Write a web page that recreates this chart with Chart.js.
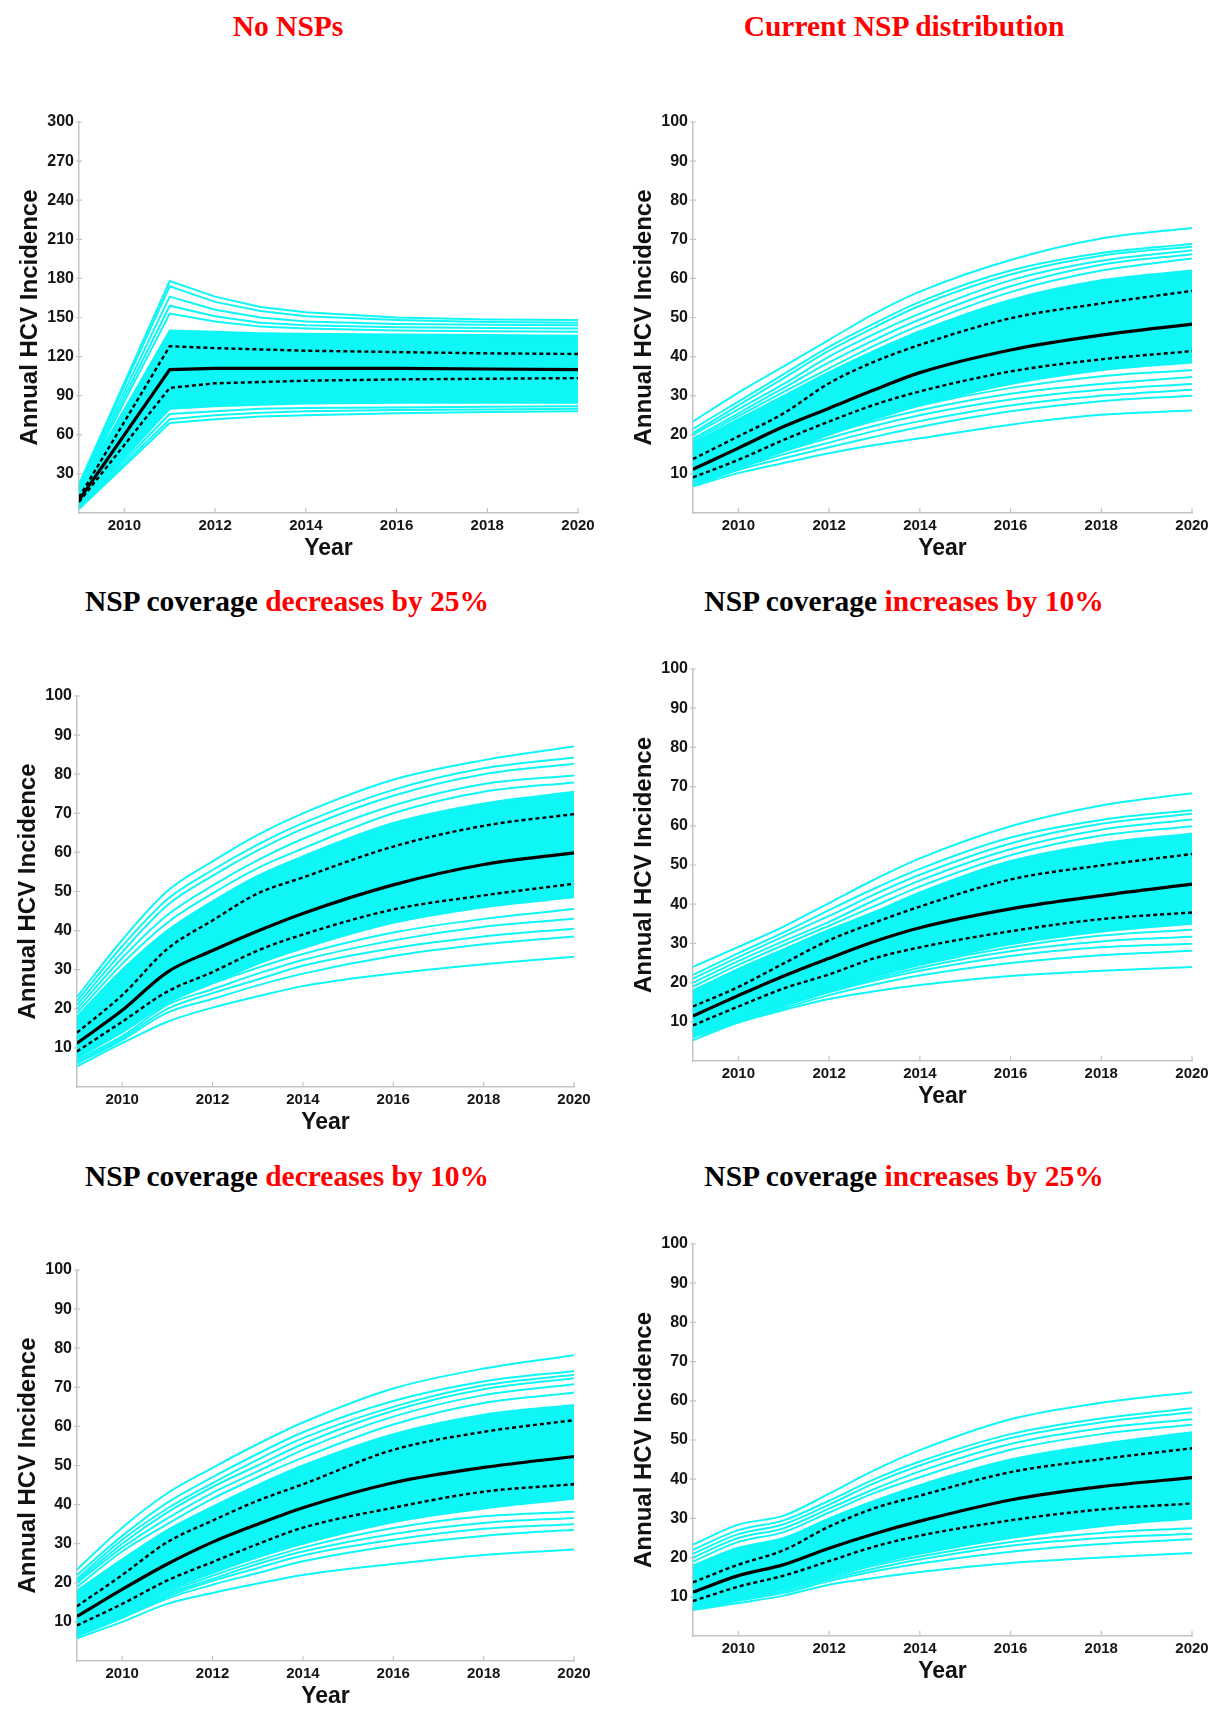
<!DOCTYPE html>
<html>
<head>
<meta charset="utf-8">
<script src="https://cdn.jsdelivr.net/npm/chart.js@4.4.1/dist/chart.umd.min.js"></script>
<style>
  body { margin: 0; background: #fff; width: 1215px; height: 1719px; position: relative; overflow: hidden; }
  .title { position: absolute; transform: translate(-50%, -50%); white-space: nowrap;
           font-family: "Liberation Serif", "Times New Roman", serif; font-weight: bold; font-size: 29.5px; color: #000; }
  .red { color: #ff0000; }
  canvas { position: absolute; }
</style>
</head>
<body>

<div class="title red" style="left:288px; top:26px">No NSPs</div>
<div class="title red" style="left:904px; top:26px">Current NSP distribution</div>
<div class="title" style="left:287px; top:601px">NSP coverage <span class="red">decreases by 25%</span></div>
<div class="title" style="left:904px; top:601px">NSP coverage <span class="red">increases by 10%</span></div>
<div class="title" style="left:287px; top:1176px">NSP coverage <span class="red">decreases by 10%</span></div>
<div class="title" style="left:904px; top:1176px">NSP coverage <span class="red">increases by 25%</span></div>

<canvas id="noNsp"></canvas>
<canvas id="current"></canvas>
<canvas id="dec25"></canvas>
<canvas id="inc10"></canvas>
<canvas id="dec10"></canvas>
<canvas id="inc25"></canvas>

<script>
// x positions of the model outputs (no-NSP panel jumps straight to its 2011 peak)
const yearsNoNsp = [2009, 2011, 2012, 2013, 2014, 2016, 2018, 2020];
const years = [2009, 2010, 2011, 2012, 2013, 2014, 2016, 2018, 2020];
const xTicks = [2010, 2012, 2014, 2016, 2018, 2020];
const yTicksNoNsp = [30, 60, 90, 120, 150, 180, 210, 240, 270, 300];
const yTicks = [10, 20, 30, 40, 50, 60, 70, 80, 90, 100];

// --- No NSPs ---
const noNspMedian = [10, 110, 111, 111, 111, 111, 110.5, 110];
const noNspUpper = [12, 128, 126.5, 125.5, 124.5, 123.5, 122.5, 122];
const noNspLower = [8.5, 96, 99.5, 100.5, 101.5, 102.5, 103, 103.5];
const noNspBandTop = [19, 140, 139, 138, 137.5, 137, 136.5, 136];
const noNspBandBottom = [5, 80, 82, 83, 84, 84.5, 84.5, 84.5];
const noNspRuns = [
  [22, 178, 166, 158, 154, 150, 148.5, 148],
  [21, 174, 162, 155, 151, 148, 146.5, 146],
  [20, 166, 156, 150, 147, 145, 144.5, 144],
  [19, 159, 151, 146, 144, 142.5, 142, 141.5],
  [18, 153, 147, 143, 141.5, 140, 139.5, 139],
  [3, 69, 72, 74, 75, 76.5, 77.5, 78],
  [4, 72, 75, 77, 78, 79, 79.5, 80],
  [4.5, 76, 78, 80, 80.5, 81, 81.5, 82]
];

// --- Current NSP distribution ---
const currentMedian = [11.2, 16.6, 22.1, 26.8, 31.5, 35.9, 41.7, 45.5, 48.3];
const currentUpper = [13.8, 19.6, 25.5, 33.2, 38.7, 43.0, 49.8, 53.6, 56.8];
const currentLower = [9.1, 13.6, 18.7, 23.4, 27.7, 31.1, 36.2, 39.3, 41.4];
const currentBandTop = [18, 24, 30, 36, 41.5, 46.5, 54.5, 59.5, 62];
const currentBandBottom = [7.5, 11.5, 15.8, 20, 24, 27.5, 33, 36.5, 38.5];
const currentRuns = [
  [23.4, 30.8, 37.5, 44.3, 51.0, 56.6, 64.7, 70.2, 72.9],
  [21.5, 28.5, 35.5, 42.5, 48.5, 54.0, 62.0, 66.5, 68.8],
  [20.5, 27.5, 34.5, 41.5, 47.5, 53.0, 61.0, 65.8, 68.1],
  [20.0, 26.5, 33.0, 40.0, 45.8, 51.0, 59.5, 64.5, 67.2],
  [19.0, 25.5, 32.0, 38.5, 44.3, 49.5, 58.0, 63.5, 66.2],
  [18.5, 24.8, 31.0, 37.0, 42.8, 48.0, 56.5, 62.0, 65.1],
  [6.8, 10.2, 12.8, 15.3, 17.4, 19.1, 22.6, 25.1, 26.2],
  [7.0, 11.0, 14.0, 16.8, 19.5, 22.0, 26.0, 28.6, 30.0],
  [7.5, 11.5, 15.0, 18.0, 21.0, 23.5, 27.5, 30.0, 31.5],
  [8.0, 12.0, 15.8, 19.2, 22.3, 25.0, 29.0, 31.5, 33.0],
  [8.5, 12.5, 16.5, 20.2, 23.5, 26.3, 30.5, 33.0, 34.8],
  [9.0, 13.0, 17.0, 21.0, 24.5, 27.5, 32.0, 35.0, 36.5]
];

// --- NSP coverage decreases by 25% ---
const dec25Median = [11.2, 19.6, 29.4, 34.9, 39.9, 44.4, 51.7, 56.9, 59.9];
const dec25Upper = [13.9, 23.5, 35.3, 42.6, 49.5, 53.6, 61.5, 66.8, 69.8];
const dec25Lower = [9.1, 16.7, 24.4, 29.4, 34.9, 39.0, 45.4, 49.0, 52.0];
const dec25BandTop = [18, 30, 40, 47.5, 54, 59, 67.5, 72.5, 75.5];
const dec25BandBottom = [7.5, 14, 21.5, 26.5, 31.5, 35.5, 42, 46, 48.5];
const dec25Runs = [
  [23.0, 37.6, 50.1, 57.7, 64.5, 70.0, 78.6, 83.6, 87.1],
  [22.0, 36.0, 48.0, 55.5, 62.0, 67.5, 76.0, 81.5, 84.3],
  [21.0, 34.5, 46.5, 54.0, 60.5, 66.0, 74.5, 80.0, 82.7],
  [20.0, 33.0, 44.0, 51.5, 58.0, 63.5, 72.0, 77.5, 79.7],
  [19.0, 31.5, 42.0, 49.5, 56.0, 61.0, 70.0, 75.5, 77.9],
  [5.3, 11.2, 16.7, 20.3, 23.2, 25.8, 29.0, 31.4, 33.3],
  [6.0, 12.0, 19.0, 22.5, 26.0, 29.0, 33.5, 36.5, 38.5],
  [6.5, 12.5, 20.0, 24.0, 27.5, 31.0, 35.5, 38.5, 40.5],
  [7.0, 13.0, 21.0, 25.0, 29.0, 32.5, 37.5, 41.0, 43.0],
  [7.5, 14.0, 22.0, 26.5, 30.5, 34.0, 39.5, 43.0, 45.5]
];

// --- NSP coverage increases by 10% ---
const inc10Median = [11.5, 16.7, 21.7, 26.2, 30.5, 34.0, 38.8, 42.2, 45.1];
const inc10Upper = [13.9, 18.9, 24.9, 30.8, 35.3, 39.4, 46.3, 49.9, 52.8];
const inc10Lower = [9.1, 13.9, 18.5, 22.1, 26.2, 29.0, 33.1, 36.2, 37.9];
const inc10BandTop = [18, 23.5, 28.5, 33.5, 38, 43, 51, 55.5, 58];
const inc10BandBottom = [7, 10.8, 14.6, 18.2, 21.8, 24.8, 29.8, 33, 35];
const inc10Runs = [
  [24.0, 29.1, 34.3, 40.3, 46.3, 51.7, 59.9, 65.2, 68.3],
  [22.0, 27.5, 32.8, 38.5, 44.0, 49.0, 57.0, 61.5, 64.0],
  [21.0, 26.5, 31.8, 37.0, 42.5, 47.5, 55.5, 60.5, 63.1],
  [20.0, 25.5, 30.6, 35.5, 41.0, 46.0, 54.0, 59.0, 61.6],
  [19.0, 24.5, 29.6, 34.5, 39.5, 44.5, 52.5, 57.5, 59.9],
  [5.3, 9.8, 13.0, 15.8, 17.8, 19.4, 21.7, 23.0, 24.0],
  [6.0, 10.0, 13.5, 16.8, 19.5, 21.8, 25.0, 27.0, 28.1],
  [6.3, 10.2, 14.0, 17.5, 20.5, 23.0, 26.8, 29.0, 29.9],
  [6.6, 10.4, 14.2, 17.8, 21.0, 23.8, 28.0, 30.5, 31.7],
  [6.8, 10.5, 14.4, 18.0, 21.5, 24.5, 29.0, 32.0, 33.5]
];

// --- NSP coverage decreases by 10% ---
const dec10Median = [11.4, 18.3, 24.8, 30.4, 35.0, 39.2, 45.6, 49.5, 52.3];
const dec10Upper = [14.0, 22.0, 30.4, 35.9, 41.0, 45.2, 54.0, 58.6, 61.6];
const dec10Lower = [9.1, 14.6, 20.6, 25.3, 29.9, 34.1, 39.2, 43.3, 45.2];
const dec10BandTop = [18, 26, 33.5, 39.5, 45, 50, 58, 63, 65.5];
const dec10BandBottom = [7.3, 12.3, 18, 22.5, 26.5, 30, 35.5, 39, 41.5];
const dec10Runs = [
  [23.4, 34.1, 42.9, 49.4, 55.5, 61.0, 69.7, 74.8, 78.2],
  [22.0, 32.0, 40.5, 47.0, 53.0, 58.5, 66.5, 71.5, 74.2],
  [21.0, 31.0, 39.0, 45.5, 51.5, 57.0, 65.0, 70.5, 73.2],
  [20.5, 30.0, 38.0, 44.5, 50.0, 55.5, 64.0, 69.5, 72.3],
  [20.0, 29.0, 36.5, 43.0, 48.5, 54.0, 62.5, 68.0, 70.8],
  [19.0, 28.0, 35.0, 41.5, 47.0, 52.0, 60.5, 66.0, 68.6],
  [5.8, 10.0, 14.6, 17.4, 19.8, 22.0, 24.8, 27.1, 28.5],
  [6.3, 11.0, 16.0, 19.5, 22.5, 25.5, 29.5, 32.0, 33.6],
  [6.6, 11.3, 16.5, 20.5, 23.8, 27.0, 31.0, 33.8, 35.0],
  [6.8, 11.6, 17.0, 21.0, 24.8, 28.0, 32.5, 35.3, 36.6],
  [7.0, 12.0, 17.5, 21.8, 25.6, 29.0, 34.0, 37.0, 38.2]
];

// --- NSP coverage increases by 25% ---
const inc25Median = [11.2, 15.4, 18.2, 22.4, 26.1, 29.3, 34.7, 38.1, 40.4];
const inc25Upper = [13.7, 18.2, 21.9, 27.9, 32.6, 35.8, 41.8, 45.1, 47.9];
const inc25Lower = [8.9, 12.6, 15.4, 19.1, 22.8, 25.6, 29.5, 32.3, 33.8];
const inc25BandTop = [18, 22.5, 25, 30, 34.5, 38.5, 45, 49, 52];
const inc25BandBottom = [7.2, 9.8, 12.2, 15.5, 18.5, 21, 25, 28, 30];
const inc25Runs = [
  [23.3, 28.4, 30.7, 36.3, 42.3, 47.4, 55.3, 59.5, 62.2],
  [22.0, 27.0, 29.5, 34.5, 40.0, 44.5, 51.5, 55.5, 58.1],
  [21.0, 26.0, 28.5, 33.5, 39.0, 43.5, 50.5, 54.5, 57.1],
  [20.0, 25.0, 27.5, 32.5, 37.5, 42.0, 49.0, 53.0, 55.3],
  [19.0, 24.0, 26.5, 31.5, 36.5, 40.5, 47.5, 51.5, 53.9],
  [6.6, 8.4, 10.3, 13.1, 14.8, 16.3, 18.6, 20.0, 21.2],
  [6.8, 9.0, 11.0, 14.0, 16.5, 18.5, 21.5, 23.5, 24.7],
  [7.0, 9.3, 11.5, 14.5, 17.2, 19.5, 23.0, 25.0, 26.1],
  [7.2, 9.6, 12.0, 15.0, 18.0, 20.3, 24.0, 26.3, 27.5]
];

const CYAN = '#0ef6f6';
const AXIS_GREY = '#c4c4c4';
const SANS = '"Liberation Sans", Arial, sans-serif';
const AXIS_W = 78, AXIS_H = 66, PAD_TOP = 20, PAD_RIGHT = 30;

// short tick marks: inward on x, straddling the y axis line
const axisTicks = {
  id: 'axisTicks',
  beforeDatasetsDraw(chart) {
    const { ctx, chartArea, scales: { x, y } } = chart;
    ctx.save();
    ctx.strokeStyle = AXIS_GREY;
    ctx.lineWidth = 1.2;
    ctx.beginPath();
    x.ticks.forEach(t => {
      const px = x.getPixelForValue(t.value);
      ctx.moveTo(px, chartArea.bottom);
      ctx.lineTo(px, chartArea.bottom - 5);
    });
    y.ticks.forEach(t => {
      const py = y.getPixelForValue(t.value);
      ctx.moveTo(chartArea.left - 3, py);
      ctx.lineTo(chartArea.left + 3, py);
    });
    ctx.stroke();
    ctx.restore();
  }
};

function drawPanel(id, box, xs, median, upper, lower, bandTop, bandBottom, runs, yMax, yTickList, curved) {
  const canvas = document.getElementById(id);
  canvas.width = box.w + AXIS_W + PAD_RIGHT;
  canvas.height = box.h + PAD_TOP + AXIS_H;
  canvas.style.left = (box.left - AXIS_W) + 'px';
  canvas.style.top = (box.top - PAD_TOP) + 'px';

  const line = (vals, extra) => Object.assign({
    data: vals.map((v, i) => ({ x: xs[i], y: v })),
    pointRadius: 0,
    fill: false,
    tension: 0,
    cubicInterpolationMode: curved ? 'monotone' : 'default'
  }, extra);

  // first dataset is painted last, so the black lines go first
  const datasets = [
    line(median, { borderColor: '#000', borderWidth: 3.2 }),
    line(upper, { borderColor: '#000', borderWidth: 2.4, borderDash: [4, 3] }),
    line(lower, { borderColor: '#000', borderWidth: 2.4, borderDash: [4, 3] }),
    ...runs.map(r => line(r, { borderColor: CYAN, borderWidth: 2 })),
    line(bandTop, { borderColor: CYAN, borderWidth: 2, backgroundColor: CYAN, fill: '+1' }),
    line(bandBottom, { borderColor: CYAN, borderWidth: 2 })
  ];

  new Chart(canvas, {
    type: 'line',
    data: { datasets },
    plugins: [axisTicks],
    options: {
      responsive: false,
      animation: false,
      layout: { padding: { top: PAD_TOP, right: PAD_RIGHT, left: 0, bottom: 0 } },
      plugins: { legend: { display: false }, tooltip: { enabled: false } },
      scales: {
        x: {
          type: 'linear',
          min: 2009,
          max: 2020,
          afterBuildTicks: s => { s.ticks = xTicks.map(v => ({ value: v })); },
          afterFit: s => { s.height = AXIS_H; },
          grid: { display: false, drawTicks: false },
          border: { display: true, color: AXIS_GREY, width: 1.5 },
          ticks: {
            autoSkip: false, maxRotation: 0, padding: 4, color: '#151515',
            font: { family: SANS, size: 15, weight: 'bold' },
            callback: v => String(v)
          },
          title: {
            display: true, text: 'Year', color: '#111',
            font: { family: SANS, size: 23, weight: 'bold' },
            padding: { top: 0, bottom: 17 }
          }
        },
        y: {
          type: 'linear',
          min: 0,
          max: yMax,
          afterBuildTicks: s => { s.ticks = yTickList.map(v => ({ value: v })); },
          afterFit: s => { s.width = AXIS_W; },
          grid: { display: false, drawTicks: false },
          border: { display: true, color: AXIS_GREY, width: 1.5 },
          ticks: {
            padding: 5, color: '#151515',
            font: { family: SANS, size: 16, weight: 'bold' },
            callback: v => String(v)
          },
          title: {
            display: true, text: 'Annual HCV Incidence', color: '#111',
            font: { family: SANS, size: 24, weight: 'bold' },
            padding: { top: 15, bottom: 0 }
          }
        }
      }
    }
  });
}

drawPanel('noNsp', { left: 79, top: 122, w: 499, h: 391 }, yearsNoNsp,
  noNspMedian, noNspUpper, noNspLower, noNspBandTop, noNspBandBottom, noNspRuns, 300, yTicksNoNsp, false);
drawPanel('current', { left: 693, top: 122, w: 499, h: 391 }, years,
  currentMedian, currentUpper, currentLower, currentBandTop, currentBandBottom, currentRuns, 100, yTicks, true);
drawPanel('dec25', { left: 77, top: 696, w: 497, h: 391 }, years,
  dec25Median, dec25Upper, dec25Lower, dec25BandTop, dec25BandBottom, dec25Runs, 100, yTicks, true);
drawPanel('inc10', { left: 693, top: 669, w: 499, h: 392 }, years,
  inc10Median, inc10Upper, inc10Lower, inc10BandTop, inc10BandBottom, inc10Runs, 100, yTicks, true);
drawPanel('dec10', { left: 77, top: 1270, w: 497, h: 391 }, years,
  dec10Median, dec10Upper, dec10Lower, dec10BandTop, dec10BandBottom, dec10Runs, 100, yTicks, true);
drawPanel('inc25', { left: 693, top: 1244, w: 499, h: 392 }, years,
  inc25Median, inc25Upper, inc25Lower, inc25BandTop, inc25BandBottom, inc25Runs, 100, yTicks, true);
</script>
</body>
</html>
